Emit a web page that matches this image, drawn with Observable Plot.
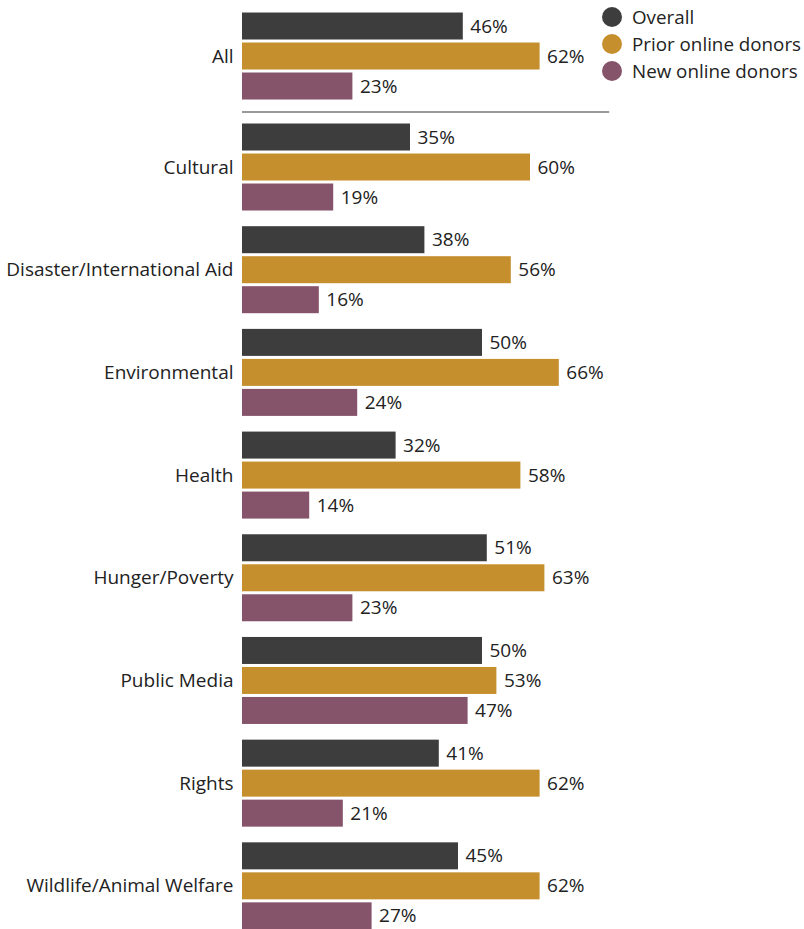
<!DOCTYPE html>
<html>
<head>
<meta charset="utf-8">
<script src="https://cdn.jsdelivr.net/npm/d3@7"></script>
<script src="https://cdn.jsdelivr.net/npm/@observablehq/plot@0.6"></script>
<style>
  html, body { margin: 0; padding: 0; background: #fff; }
  #wrap { position: relative; width: 804px; height: 929px; font-family: "Open Sans", sans-serif; }
  #legend { position: absolute; left: 602px; top: 3px; font-size: 18.8px; color: #222; }
  #legend .row { display: flex; align-items: center; height: 27px; }
  #legend .dot { width: 20px; height: 20px; border-radius: 50%; margin-right: 10px; flex: none; }
</style>
</head>
<body>
<div id="wrap"><div id="legend"></div></div>
<script>
const categories = ["All", "Cultural", "Disaster/International Aid", "Environmental", "Health",
  "Hunger/Poverty", "Public Media", "Rights", "Wildlife/Animal Welfare"];
const seriesNames = ["Overall", "Prior online donors", "New online donors"];
const overall = [46, 35, 38, 50, 32, 51, 50, 41, 45];
const prior   = [62, 60, 56, 66, 58, 63, 53, 62, 62];
const newer   = [23, 19, 16, 24, 14, 23, 47, 21, 27];
const colors  = ["#3d3d3d", "#c68f2e", "#85536a"];

// layout (in bar-step units)
const firstCenter = 1.867, firstGap = 3.7, groupStep = 3.423, half = 0.45;
const center = g => firstCenter + (g > 0 ? firstGap + (g - 1) * groupStep : 0);

const seriesVals = [overall, prior, newer];
const rows = [];
categories.forEach((c, g) => {
  seriesVals.forEach((vals, s) => {
    const yc = center(g) + (s - 1);
    rows.push({category: c, series: seriesNames[s], value: vals[g], y1: yc - half, y2: yc + half, yc});
  });
});
const labels = categories.map((c, g) => ({category: c, yc: center(g)}));
const sepY = ((center(0) + 1 + half) + (center(1) - 1 - half)) / 2;

const W = 804, H = 929;
const chart = Plot.plot({
  width: W, height: H,
  marginLeft: 242, marginRight: 82, marginTop: 0, marginBottom: 0,
  style: {fontFamily: "'Open Sans', sans-serif", background: "transparent"},
  x: {domain: [0, 100], axis: null},
  y: {domain: [0, H / 30], reverse: true, axis: null},
  color: {domain: seriesNames, range: colors},
  marks: [
    Plot.rectX(rows, {x1: 0, x2: "value", y1: "y1", y2: "y2", fill: "series"}),
    Plot.text(rows, {x: "value", y: "yc", text: d => d.value + "%", textAnchor: "start", dx: 7, fontSize: 19, fill: "#222"}),
    Plot.text(labels, {x: 0, y: "yc", text: "category", textAnchor: "end", dx: -9, fontSize: 19, fill: "#222"}),
    Plot.ruleY([sepY], {x1: 0, x2: 76.5, stroke: "#999", strokeWidth: 2})
  ]
});
document.getElementById("wrap").prepend(chart);
chart.style.position = "absolute";
chart.style.left = "0"; chart.style.top = "0";

const legend = document.getElementById("legend");
seriesNames.forEach((n, i) => {
  const r = document.createElement("div"); r.className = "row";
  const d = document.createElement("div"); d.className = "dot"; d.style.background = colors[i];
  const t = document.createElement("span"); t.textContent = n;
  r.appendChild(d); r.appendChild(t); legend.appendChild(r);
});
</script>
</body>
</html>
